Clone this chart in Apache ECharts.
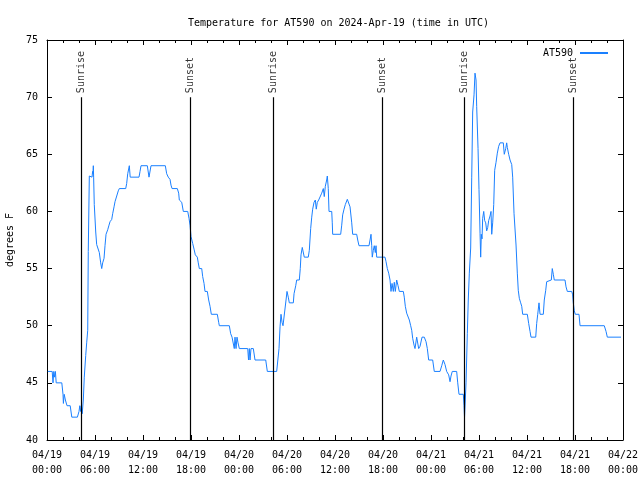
<!DOCTYPE html>
<html><head><meta charset="utf-8">
<script src="https://cdn.jsdelivr.net/npm/echarts@6/dist/echarts.min.js"></script>
<style>html,body{margin:0;padding:0;background:#fff}#c{width:640px;height:480px}</style>
</head><body><div id="c"></div>
<script>
// hours since 2024-04-19 00:00 UTC
const hours = [0.1,0.65,0.75,0.85,0.95,1.05,1.15,1.85,2.0,2.05,2.15,2.3,2.5,2.9,3.1,3.8,4.0,4.1,4.2,4.3,4.4,
4.54,4.66,4.84,4.96,5.09,5.16,5.29,5.63,5.7,5.75,5.79,5.83,5.91,6.09,6.21,6.41,6.54,6.71,6.84,6.96,7.13,7.25,7.38,7.59,7.75,7.88,8.09,8.21,8.38,8.5,8.71,8.91,9.04,9.84,9.96,10.09,10.29,10.4,11.5,11.63,11.75,12.54,12.75,13.0,14.79,14.96,15.16,15.38,15.5,15.63,16.29,16.46,16.54,16.84,17.04,17.59,17.75,17.88,18.0,18.21,18.38,18.54,18.79,18.91,19.04,19.34,19.46,19.63,19.75,20.04,20.21,20.38,20.54,21.29,21.46,21.54,22.79,22.96,23.13,23.29,23.41,23.5,23.63,23.75,23.88,24.04,25.09,25.19,25.29,25.38,25.5,25.79,26.0,27.34,27.54,28.71,
29.0,29.13,29.25,29.38,29.5,29.75,29.88,30.0,30.16,30.29,30.79,30.88,31.09,31.21,31.54,31.66,31.75,31.91,32.04,32.16,32.66,32.79,32.96,33.09,33.21,33.38,33.54,33.66,33.79,33.96,34.13,34.34,34.54,34.66,34.79,34.96,35.04,35.16,35.25,35.59,35.66,35.71,36.71,36.84,36.96,37.13,37.29,37.54,37.71,37.88,38.09,38.21,38.71,38.84,39.0,40.25,40.38,40.5,40.59,40.66,40.79,40.91,41.04,41.13,41.21,42.25,42.38,42.54,42.71,42.88,43.0,43.13,43.29,43.41,43.54,43.71,43.88,44.04,44.54,44.66,44.79,44.96,45.16,45.29,45.46,45.59,45.71,45.88,46.0,46.21,46.46,46.63,46.88,47.16,47.38,47.54,47.71,48.21,48.41,49.13,49.34,49.54,49.75,49.96,50.21,50.38,50.5,50.66,51.21,51.34,51.5,52.04,52.13,52.19,
52.38,52.54,52.66,52.79,52.96,53.09,53.21,53.38,53.5,53.63,53.71,53.88,54.0,54.13,54.21,54.29,54.38,54.46,54.59,54.71,54.84,54.96,55.09,55.21,55.38,55.5,55.59,55.71,55.84,55.96,56.13,56.29,56.46,56.63,57.04,57.16,57.34,57.46,57.54,57.71,57.88,58.09,58.21,58.38,58.63,58.79,58.91,59.04,59.21,59.34,59.46,60.04,60.21,60.38,60.5,61.09,61.21,61.34,61.5,61.63,62.04,62.16,62.34,62.46,62.54,63.04,63.16,63.29,63.41,64.75,64.88,65.04,65.59,65.71,65.79,65.91,66.04,66.5,66.63,69.66,69.88,70.04,71.75];
const temps = [46,46,45,46,45.5,46,45,45,44,43.2,44,43.5,43,43,42,42,42.5,43,42.5,43,42.3,
43.5,45.5,47.4,48.5,49.6,56.5,63.1,63,63.5,63.3,64,63,60.6,58.2,57.1,57,56.4,55.5,55,55.5,55.9,57,58,58.4,58.8,59.1,59.3,59.8,60.4,60.85,61,61.8,62,62,62.45,63.3,64,63,63,63.5,64,64,63,64,64,63.3,63,62.8,62.3,62,62,61.6,61,60.8,60,60,59.4,58.8,57.8,57.2,56.7,56.2,56,55.5,55,55,54.3,53.7,53,53,52.25,51.7,51,51,50.3,50,50,49.3,49,49,48,49,48,49,48.5,48,48,47,48,47,48,48,47,47,46,46,
48,49.9,51,50.3,50,50,52.25,53,52.5,52,52,52.8,53.5,54,54,55,56.2,56.85,57,56,56,56.6,58.5,59.5,60.2,60.8,61,60.2,60.8,61,61.1,61.6,62,61.3,62.2,62.75,63.1,62,60,60,59,58,58,58.8,59.7,60.2,60.6,61.06,60.9,60.4,59,58,58,57.5,57,57,57.5,58,57,56,56.6,57,56.4,57,56,56,55.6,55,54.6,54,53,53.7,53,53.8,53,54,53.5,53,53,52.5,51.7,51.1,51,50.5,50,49.6,48.9,48.3,48,49,48,48.2,49,49,48.6,48,47,47,46,46,46.5,47,46.6,46,45.7,45.1,45.6,46,46,45,44,44,43,42,
45,49.3,52.25,54.6,56.8,63,68.7,70.2,72.1,71.5,69.2,65.5,61.9,58.1,56,58,57.6,59.4,60,59.2,59,58.3,58.6,59.2,59.6,60,58,59,60.6,63.6,64.3,65.1,65.7,66,66,65,65.5,66,65.6,65,64.5,64.1,63,59.8,57.06,54.6,53.1,52.4,52,51.7,51,51,50.2,49.5,49,49,50.2,51,52,51,51,52.25,53.1,53.85,54,54,55,54.5,54,54,53.4,53,53,52.7,52,51.3,51,51,50,50,49.5,49,49];
const eventHours = [4.3, 17.95, 28.28, 41.92, 52.2, 65.78];
const eventNames = ['Sunrise','Sunset','Sunrise','Sunset','Sunrise','Sunset'];
const xTickLabels = ['04/19\n00:00','04/19\n06:00','04/19\n12:00','04/19\n18:00','04/20\n00:00','04/20\n06:00','04/20\n12:00','04/20\n18:00','04/21\n00:00','04/21\n06:00','04/21\n12:00','04/21\n18:00','04/22\n00:00'];
const seriesName = 'AT590';
const titleText = 'Temperature for AT590 on 2024-Apr-19 (time in UTC)';
const yName = 'degrees F';

const FONT = 'DejaVu Sans Mono';
const lineData = hours.map((h, i) => [h, temps[i]]);
const evLineData = eventHours.map(h => [{coord: [h, 40]}, {coord: [h, 70]}]);
const evLabelData = eventHours.map((h, i) => [h, 70, eventNames[i]]);

const chart = echarts.init(document.getElementById('c'), null, {renderer: 'canvas'});
const axisCommon = {
  axisLine: {show: true, onZero: false, lineStyle: {color: '#000', width: 1}},
  splitLine: {show: false}
};
chart.setOption({
  animation: false,
  backgroundColor: '#fff',
  textStyle: {fontFamily: FONT},
  title: {text: titleText, left: 183, top: 13,
    textStyle: {fontFamily: FONT, fontSize: 10, fontWeight: 'normal', color: '#000'}},
  legend: {show: true, right: 27, top: 43, align: 'right', itemWidth: 28, itemHeight: 2, itemGap: 5,
    data: [{name: seriesName, icon: 'rect'}],
    textStyle: {fontFamily: FONT, fontSize: 10, color: '#000', padding: [0, 2, 0, 0]}},
  grid: {left: 47, right: 17, top: 40, bottom: 40, containLabel: false, outerBoundsMode: 'none'},
  xAxis: [
    Object.assign({}, axisCommon, {type: 'value', min: 0, max: 72, interval: 6, position: 'bottom',
      axisTick: {show: true, inside: true, length: 5, lineStyle: {color: '#000'}},
      minorTick: {show: true, splitNumber: 3, length: 3, lineStyle: {color: '#000'}},
      axisLabel: {margin: 8, fontFamily: FONT, fontSize: 10, color: '#000', lineHeight: 15,
        formatter: v => xTickLabels[Math.round(v / 6)]}}),
    Object.assign({}, axisCommon, {type: 'value', min: 0, max: 72, interval: 6, position: 'top',
      axisTick: {show: true, inside: true, length: 5, lineStyle: {color: '#000'}},
      minorTick: {show: true, splitNumber: 3, length: 3, lineStyle: {color: '#000'}},
      axisLabel: {show: false}})
  ],
  yAxis: [
    Object.assign({}, axisCommon, {type: 'value', min: 40, max: 75, interval: 5, position: 'left',
      name: yName, nameLocation: 'middle', nameGap: 31, nameRotate: 90,
      nameTextStyle: {fontFamily: FONT, fontSize: 10, color: '#000'},
      axisTick: {show: true, inside: true, length: 5, lineStyle: {color: '#000'}},
      axisLabel: {margin: 9, fontFamily: FONT, fontSize: 10, color: '#000'}}),
    Object.assign({}, axisCommon, {type: 'value', min: 40, max: 75, interval: 5, position: 'right',
      axisTick: {show: true, inside: true, length: 5, lineStyle: {color: '#000'}},
      axisLabel: {show: false}})
  ],
  series: [
    {name: seriesName, type: 'line', data: lineData, showSymbol: false, symbol: 'none',
      lineStyle: {color: '#1a80ff', width: 1}, itemStyle: {color: '#1a80ff'}, z: 3,
      markLine: {silent: true, symbol: 'none', label: {show: false},
        lineStyle: {color: '#000', width: 1.2, type: 'solid'}, data: evLineData}},
    {name: 'events', type: 'scatter', data: evLabelData, symbolSize: 0, silent: true,
      label: {show: true, position: 'top', distance: 4, rotate: 90, align: 'left', verticalAlign: 'middle',
        fontFamily: FONT, fontSize: 10, color: '#000', formatter: p => p.value[2]}}
  ]
});
</script></body></html>
